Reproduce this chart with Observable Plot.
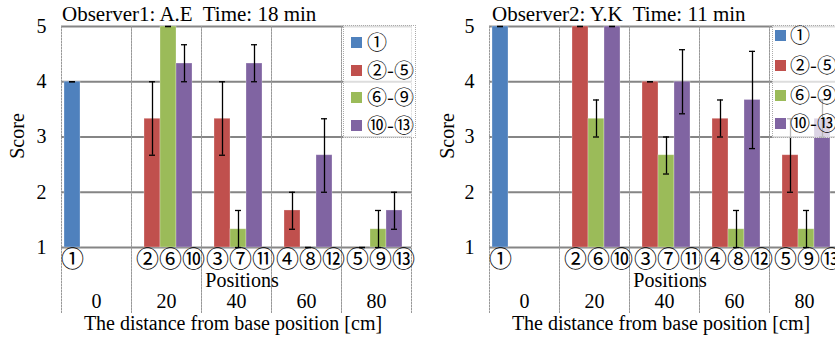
<!DOCTYPE html>
<html><head><meta charset="utf-8">
<script src="https://cdn.jsdelivr.net/npm/d3@7"></script>
<script src="https://cdn.jsdelivr.net/npm/@observablehq/plot@0.6"></script>
<style>
html,body{margin:0;padding:0;background:#fff;}
body{width:835px;height:338px;overflow:hidden;position:relative;font-family:"Liberation Serif",serif;color:#000;}
.panel{position:absolute;top:0;width:415px;height:338px;}
.panel svg{font-family:"Liberation Serif",serif;}
.t{position:absolute;white-space:pre;line-height:1;font-size:20px;font-family:"Liberation Serif",serif;}
.c{transform:translate(-50%,-50%);}
.rot{transform:translate(-50%,-50%) rotate(-90deg);}
.legend{position:absolute;border:1px dotted #aaa;background:rgba(255,255,255,0.72);}
.sw{position:absolute;width:11px;height:11px;}
.lt{position:absolute;font-family:"Noto Sans CJK JP";font-size:20px;line-height:1;transform:translateY(-50%);white-space:nowrap;}
</style></head><body>
<div id="p1" class="panel" style="left:0px"></div>
<div id="p2" class="panel" style="left:428px"></div>
<script>
// ---- categories / labels ----
const groups = ["0", "20", "40", "60", "80"];
const seriesNames = ["①", "②-⑤", "⑥-⑨", "⑩-⑬"];
const seriesColors = ["#4f81bd", "#c0504d", "#9bbb59", "#8064a2"];
const seriesSlot = ["a", "a", "b", "c"];
const positionLabels = ["①", "②⑥⑩", "③⑦⑪", "④⑧⑫", "⑤⑨⑬"];
const yTicks = [1, 2, 3, 4, 5];

// ---- bars (one per group/series) ----
const barGroup  = ["0", "20", "20", "20", "40", "40", "40", "60", "60", "60", "80", "80", "80"];
const barSeries = ["①", "②-⑤", "⑥-⑨", "⑩-⑬", "②-⑤", "⑥-⑨", "⑩-⑬", "②-⑤", "⑥-⑨", "⑩-⑬", "②-⑤", "⑥-⑨", "⑩-⑬"];

// Observer 1: A.E, 18 min
const obs1Title = "Observer1: A.E  Time: 18 min";
const obs1Mean = [4, 3.33, 5, 4.33, 3.33, 1.33, 4.33, 1.67, 1, 2.67, 1, 1.33, 1.67];
const obs1Low  = [4, 2.67, 5, 4.00, 2.67, 1.00, 4.00, 1.33, 1, 2.00, 1, 1.00, 1.33];
const obs1High = [4, 4.00, 5, 4.67, 4.00, 1.67, 4.67, 2.00, 1, 3.33, 1, 1.67, 2.00];

// Observer 2: Y.K, 11 min
const obs2Title = "Observer2: Y.K  Time: 11 min";
const obs2Mean = [5, 5, 3.33, 5, 4, 2.67, 4.00, 3.33, 1.33, 3.67, 2.67, 1.33, 3.33];
const obs2Low  = [5, 5, 3.00, 5, 4, 2.33, 3.42, 3.00, 1.00, 2.79, 2.00, 1.00, 3.00];
const obs2High = [5, 5, 3.67, 5, 4, 3.00, 4.58, 3.67, 1.67, 4.55, 3.33, 1.67, 3.67];

function addText(el, txt, x, y, cls, size) {
  const d = document.createElement("div");
  d.className = "t " + cls;
  d.textContent = txt;
  d.style.left = x + "px"; d.style.top = y + "px";
  if (size) d.style.fontSize = size + "px";
  el.appendChild(d);
  return d;
}

// bars + error bars for a subset of rows (the base-position group sits at the left edge)
function barMarks(data, dx) {
  const err = {fx: "group", x: "slot", stroke: "#000", strokeWidth: 1.3, dx};
  return [
    Plot.barY(data, {fx: "group", x: "slot", y1: () => 1, y2: "mean", fill: "series", stroke: "#fff", strokeOpacity: 0.35, strokeWidth: 0.8, dx}),
    Plot.ruleX(data, {...err, y1: "lo", y2: "hi"}),
    Plot.tickY(data, {...err, y: "lo", insetLeft: 5, insetRight: 5}),
    Plot.tickY(data, {...err, y: "hi", insetLeft: 5, insetRight: 5})
  ];
}

function drawPanel(el, title, mean, low, high, lay) {
  const rows = barGroup.map((g, i) => ({
    group: g, series: barSeries[i],
    slot: seriesSlot[seriesNames.indexOf(barSeries[i])],
    mean: mean[i], lo: low[i], hi: high[i]
  }));
  const labels = groups.map((g, i) => ({group: g, slot: i === 0 ? "a" : "b", text: positionLabels[i]}));
  const baseRows = rows.filter(d => d.group === groups[0]);
  const otherRows = rows.filter(d => d.group !== groups[0]);
  const chart = Plot.plot({
    width: 415, height: 338,
    marginTop: 26, marginBottom: 26, marginLeft: 60, marginRight: 4,
    style: {fontFamily: "Liberation Serif", fontSize: "20px", color: "#000", background: "transparent", overflow: "visible"},
    fx: {domain: groups, padding: 0, axis: null},
    x: {domain: ["a", "b", "c"], paddingInner: 0, paddingOuter: 0.62, axis: null},
    y: {domain: [1, 5], range: [247, 26], ticks: yTicks, tickFormat: "d", tickSize: 0, tickPadding: 15, label: null},
    color: {domain: seriesNames, range: seriesColors},
    marks: [
      Plot.ruleY(yTicks, {stroke: "#858585", strokeWidth: 2}),
      Plot.frame({anchor: "left", stroke: "#999", strokeDasharray: "1.5,1.5"}),
      Plot.frame({anchor: "right", stroke: "#999", strokeDasharray: "1.5,1.5"}),
      ...barMarks(baseRows, -8),
      ...barMarks(otherRows, 2),
      Plot.text(labels.slice(0, 1), {fx: "group", x: "slot", y: () => 1, text: "text", dy: 12, dx: -8, fontFamily: "Noto Sans CJK JP", fontSize: 23}),
      Plot.text(labels.slice(1), {fx: "group", x: "slot", y: () => 1, text: "text", dy: 12, dx: 4, fontFamily: "Noto Sans CJK JP", fontSize: 23}),
      Plot.text(groups, {fx: d => d, text: d => d, frameAnchor: "bottom", dy: -5, fontSize: 20})
    ]
  });
  el.appendChild(chart);

  addText(el, title, lay.titleX, 4, "", 21);
  addText(el, "Score", lay.scoreX, 136, "rot");
  addText(el, "Positions", 242, 280, "c");
  addText(el, "The distance from base position [cm]", 233, 323, "c");

  const lg = document.createElement("div");
  lg.className = "legend";
  Object.assign(lg.style, {left: lay.lgX + "px", top: "25px", width: lay.lgW + "px", height: "111px"});
  el.appendChild(lg);
  seriesNames.forEach((s, i) => {
    const sw = document.createElement("div");
    sw.className = "sw";
    Object.assign(sw.style, {left: (lay.swX - lay.lgX - 1) + "px", top: (lay.rows[i] - 25 - 1 - 5.5) + "px", background: seriesColors[i]});
    lg.appendChild(sw);
    const t = document.createElement("div");
    t.className = "lt";
    t.textContent = s;
    Object.assign(t.style, {left: (lay.txX - lay.lgX - 1) + "px", top: (lay.rows[i] - 25 - 1) + "px"});
    lg.appendChild(t);
  });
}

drawPanel(document.getElementById("p1"), obs1Title, obs1Mean, obs1Low, obs1High,
  {titleX: 62, scoreX: 17, lgX: 343, lgW: 71, swX: 351, txX: 367, rows: [42, 70, 97, 125]});
drawPanel(document.getElementById("p2"), obs2Title, obs2Mean, obs2Low, obs2High,
  {titleX: 64, scoreX: 19, lgX: 344, lgW: 80, swX: 347, txX: 362, rows: [35, 65, 95, 123]});
</script>
</body></html>
